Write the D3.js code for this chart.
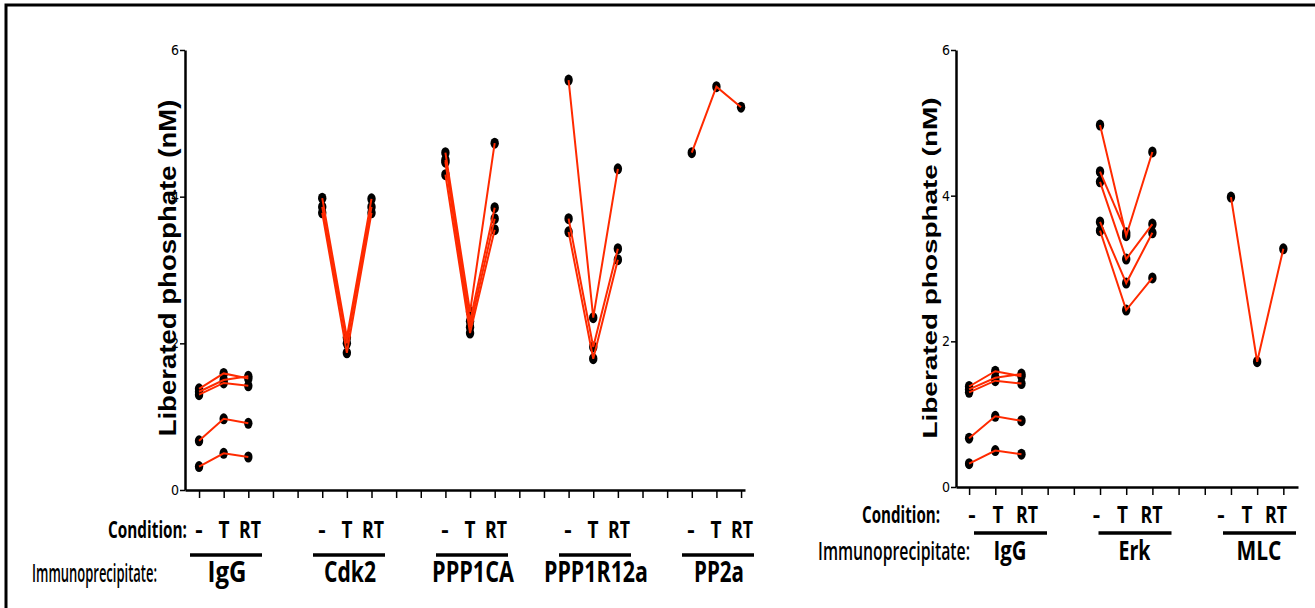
<!DOCTYPE html>
<html>
<head>
<meta charset="utf-8">
<script src="https://cdn.jsdelivr.net/npm/d3@7"></script>
<style>
  body { margin: 0; background: #fff; }
  svg { display: block; }
</style>
</head>
<body>
<script>
// Valores: cada fila es un sujeto [-, T, RT]
var conditions = ["-", "T", "RT"];
var yTicks = [0, 2, 4, 6];

var leftGroups = ["IgG", "Cdk2", "PPP1CA", "PPP1R12a", "PP2a"];
var rightGroups = ["IgG", "Erk", "MLC"];

var iggValues = [
  [1.38, 1.59, 1.52],
  [1.34, 1.50, 1.55],
  [1.30, 1.46, 1.42],
  [0.67, 0.97, 0.91],
  [0.32, 0.50, 0.45]
];
var cdk2Values = [
  [3.98, 2.08, 3.97],
  [3.86, 2.00, 3.86],
  [3.78, 1.87, 3.78]
];
var ppp1caValues = [
  [4.60, 2.43, 4.73],
  [4.50, 2.30, 3.85],
  [4.47, 2.22, 3.70],
  [4.30, 2.14, 3.55]
];
var ppp1r12aValues = [
  [5.59, 2.35, 4.38],
  [3.70, 1.95, 3.29],
  [3.52, 1.79, 3.14]
];
var pp2aValues = [
  [4.60, 5.50, 5.22]
];
var erkValues = [
  [4.97, 3.45, 4.60],
  [4.33, 3.49, null],
  [4.19, 3.13, 3.61],
  [3.64, 2.80, 3.49],
  [3.52, 2.43, 2.87]
];
var mlcValues = [
  [3.98, 1.72, 3.27]
];

var leftValues = [iggValues, cdk2Values, ppp1caValues, ppp1r12aValues, pp2aValues];
var rightValues = [iggValues, erkValues, mlcValues];

// anchos de las etiquetas grandes (px) para imitar la fuente estrecha del original
var leftNameWidth = [39, 52, 82, 104, 50];
var rightNameWidth = [33, 32, 45];

var W = 1315, H = 608;
var labelFont = "'Open Sans', 'Noto Sans', sans-serif";
var tickFont = "'Liberation Sans Narrow', 'DejaVu Sans Condensed', sans-serif";
var red = "#ff2a00";

var svg = d3.select("body").append("svg")
    .attr("width", W)
    .attr("height", H);

// marco
svg.append("path")
    .attr("d", "M6," + H + "V5H" + W)
    .attr("fill", "none")
    .attr("stroke", "#000")
    .attr("stroke-width", 3);

// estrecha un texto (escala horizontal) hasta el ancho pedido
var fit = function(t, x, y, width, rot) {
    var s = width / t.node().getComputedTextLength();
    t.attr("x", 0).attr("y", 0)
	.attr("transform", "translate(" + x + "," + y + ")" + (rot ? " rotate(" + rot + ")" : "") +
	      " scale(" + s + ",1)");
    return t;
};

var drawPanel = function(p) {
    var g = svg.append('g');

    var x = d3.scaleLinear().domain(p.xDomain).range(p.xRange);
    var y = d3.scaleLinear().domain([0, 6]).range(p.yRange);

    // eje y
    var ya = g.append("g")
	.attr("transform", "translate(" + p.xRange[0] + ",0)")
	.call(d3.axisLeft(y).tickValues(yTicks).tickFormat(d3.format("d"))
	      .tickSize(5).tickSizeOuter(0).tickPadding(1));
    ya.select(".domain").attr("stroke-width", 2.5);
    ya.selectAll(".tick line").attr("stroke-width", 1.5);
    ya.selectAll(".tick text")
	.attr("font-family", tickFont)
	.attr("font-size", 14)
	.attr("fill", "#000");

    // eje x: una marca por columna
    var xa = g.append("g")
	.attr("transform", "translate(0," + p.yRange[0] + ")")
	.call(d3.axisBottom(x).tickValues(d3.range(p.nTicks)).tickSize(8).tickSizeOuter(0).tickFormat(""));
    xa.select(".domain").attr("stroke-width", 2.5);
    xa.selectAll(".tick line").attr("stroke-width", 1.5);

    // título del eje y
    var title = g.append("text")
	.attr("text-anchor", "middle")
	.attr("font-family", "'Liberation Sans', Arial, sans-serif")
	.attr("font-weight", "bold")
	.attr("font-size", p.titleSize)
	.text("Liberated phosphate (nM)");
    fit(title, p.titleX, p.titleY, p.titleLen, -90);

    // puntos y líneas de cada sujeto
    var subjects = [];
    p.values.forEach(function(groupVals, gi) {
	groupVals.forEach(function(s) {
	    subjects.push(s.map(function(v, ci) {
		return {i: gi * 5 + ci, v: v};
	    }).filter(function(d) { return d.v !== null; }));
	});
    });
    var dots = [].concat.apply([], subjects);

    g.selectAll('.dot')
	.data(dots)
      .enter()
	.append('ellipse')
	.attr('class', 'dot')
	.attr('cx', function(d) { return x(d.i); })
	.attr('cy', function(d) { return y(d.v); })
	.attr('rx', 4.2)
	.attr('ry', 5.5)
	.attr('fill', '#000');

    var line = d3.line()
	.x(function(d) { return x(d.i); })
	.y(function(d) { return y(d.v); });

    g.selectAll('.subject')
	.data(subjects)
      .enter()
	.append('path')
	.attr('class', 'subject')
	.attr('d', line)
	.attr('fill', 'none')
	.attr('stroke', red)
	.attr('stroke-width', 2);

    // etiquetas inferiores
    var lab = g.append("g")
	.attr("font-family", labelFont)
	.attr("fill", "#000");

    var cond = lab.append("text")
	.attr("text-anchor", "end")
	.attr("font-weight", "bold")
	.attr("font-size", 23)
	.text("Condition:");
    fit(cond, p.condLabelX, p.condY, p.condLen);

    var imm = lab.append("text")
	.attr("text-anchor", "end")
	.attr("font-weight", 600)
	.attr("font-size", p.immSize)
	.text("Immunoprecipitate:");
    fit(imm, p.immLabelX, p.nameY, p.immLen);

    p.groups.forEach(function(name, gi) {
	var x0 = p.labelStart + gi * p.labelStep;
	conditions.forEach(function(c, ci) {
	    var t = lab.append("text")
		.attr("text-anchor", "middle")
		.attr("font-weight", "bold")
		.attr("font-size", 23)
		.text(c);
	    var cx = x0 + p.condOffsets[ci];
	    if (c === "RT") fit(t, cx, p.condY, 22);
	    else if (c === "T") fit(t, cx, p.condY, 11);
	    else t.attr("x", cx).attr("y", p.condY);
	});
	lab.append("line")
	    .attr("x1", x0).attr("x2", x0 + p.barLen)
	    .attr("y1", p.barY).attr("y2", p.barY)
	    .attr("stroke", "#000")
	    .attr("stroke-width", 3.5);
	var nm = lab.append("text")
	    .attr("text-anchor", "middle")
	    .attr("font-weight", "bold")
	    .attr("font-size", p.nameSize)
	    .text(name);
	fit(nm, x0 + p.nameOffset, p.nameY, p.nameWidth[gi]);
    });
};

drawPanel({
    groups: leftGroups, values: leftValues, nameWidth: leftNameWidth,
    xDomain: [-0.57, 22.16], xRange: [185, 745], nTicks: 23,
    yRange: [490, 50],
    titleX: 176, titleY: 268, titleSize: 24, titleLen: 337,
    condLabelX: 187, condLen: 79, immLabelX: 157, immLen: 125, immSize: 26,
    condY: 538, barY: 555, nameY: 582, nameSize: 28,
    labelStart: 190, labelStep: 123, barLen: 72,
    condOffsets: [9, 34, 60], nameOffset: 37
});

drawPanel({
    groups: rightGroups, values: rightValues, nameWidth: rightNameWidth,
    xDomain: [-0.5, 12.56], xRange: [956, 1298], nTicks: 13,
    yRange: [487, 50],
    titleX: 937, titleY: 268, titleSize: 20, titleLen: 341,
    condLabelX: 940, condLen: 78, immLabelX: 970, immLen: 152, immSize: 26,
    condY: 523, barY: 533, nameY: 560, nameSize: 27,
    labelStart: 974, labelStep: 124.5, barLen: 73,
    condOffsets: [-2, 24, 53], nameOffset: 36
});
</script>
</body>
</html>
